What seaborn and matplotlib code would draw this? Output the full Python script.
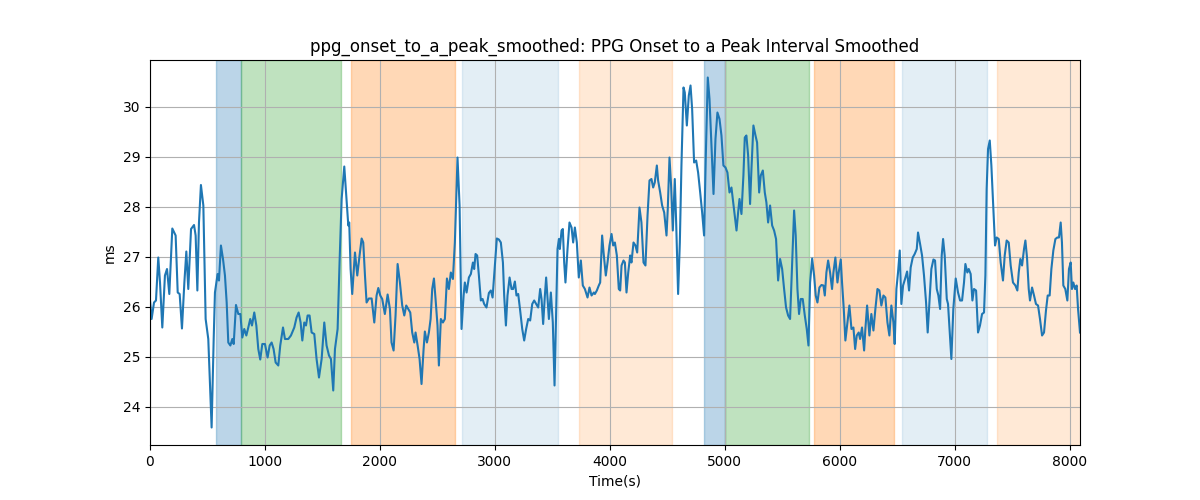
import pandas as pd
import numpy as np
import matplotlib
matplotlib.use('Agg')
import matplotlib.pyplot as plt
import seaborn as sns

# smoothed onset-to-peak interval as (time s, ms)
seg_1 = [(0, 26.13), (14, 25.76), (35, 26.09), (52, 26.13), (72, 26.99), (87, 26.49), (107, 25.59),
         (130, 26.63), (148, 26.76), (168, 26.26), (194, 27.57), (223, 27.43), (241, 26.29), (258, 26.26),
         (278, 25.57), (299, 26.49), (316, 27.11), (333, 26.36), (357, 27.56), (383, 27.64), (397, 27.43),
         (412, 26.33), (426, 27.69), (443, 28.44), (464, 28.03), (484, 25.76), (507, 25.36), (536, 23.59),
         (554, 25.36), (565, 26.29), (588, 26.66), (600, 26.53), (617, 27.23), (635, 26.96), (652, 26.63),
         (667, 26.09), (681, 25.29), (699, 25.23), (716, 25.36), (728, 25.26), (748, 26.04), (768, 25.86),
         (786, 25.86), (803, 25.39), (820, 25.56), (838, 25.43), (855, 25.59), (872, 25.76), (887, 25.63),
         (907, 25.89), (925, 25.63), (942, 25.16), (959, 24.95), (977, 25.26), (1000, 25.26), (1023, 24.99),
         (1041, 25.23), (1058, 25.29), (1075, 25.16), (1093, 24.89), (1116, 24.83), (1133, 25.23),
         (1157, 25.59), (1174, 25.36), (1203, 25.36), (1226, 25.43), (1255, 25.59), (1275, 25.79),
         (1293, 25.89), (1310, 25.69), (1325, 25.33)]

seg_2 = [(1342, 25.69), (1357, 25.63), (1371, 25.83), (1388, 25.83), (1406, 25.49), (1429, 25.46),
         (1449, 24.96), (1470, 24.59), (1493, 24.96), (1516, 25.69), (1536, 25.23), (1557, 25.03),
         (1574, 24.96), (1594, 24.33), (1609, 25.16), (1632, 25.56), (1649, 26.89), (1667, 28.16),
         (1690, 28.81), (1707, 28.23), (1725, 27.63), (1733, 27.69), (1745, 26.76), (1759, 26.26),
         (1783, 27.09), (1803, 26.63), (1823, 27.03), (1841, 27.37), (1855, 27.29), (1870, 26.63),
         (1884, 26.09), (1904, 26.17), (1928, 26.17), (1951, 25.69), (1971, 26.23), (1986, 26.38),
         (2003, 26.23), (2020, 26.16), (2043, 25.86), (2067, 26.25), (2087, 25.96), (2101, 25.29),
         (2119, 25.13), (2136, 25.83), (2154, 26.86), (2174, 26.49), (2194, 26.03), (2212, 25.83),
         (2229, 26.03), (2246, 25.96), (2264, 25.89), (2281, 25.49), (2299, 25.29), (2310, 25.49),
         (2328, 25.23), (2345, 24.96), (2362, 24.46), (2380, 25.16), (2391, 25.51), (2409, 25.29),
         (2426, 25.49), (2441, 25.76), (2455, 26.36), (2470, 26.57), (2484, 26.16), (2501, 25.63),
         (2513, 24.83), (2530, 25.76), (2548, 25.69), (2565, 25.76), (2583, 26.57), (2600, 26.36),
         (2617, 26.69), (2635, 26.56)]

seg_3 = [(2652, 27.29), (2675, 28.99), (2693, 28.03), (2710, 25.56), (2728, 26.23), (2739, 26.49),
         (2754, 26.29), (2774, 26.59), (2791, 26.66), (2809, 26.89), (2820, 26.76), (2832, 27.06),
         (2846, 27.03), (2861, 26.63), (2878, 26.13), (2893, 26.16), (2907, 26.06), (2927, 25.99),
         (2948, 26.28), (2965, 26.33), (2980, 26.19), (3000, 26.83), (3017, 27.37), (3035, 27.35),
         (3052, 27.29), (3070, 26.89), (3081, 26.23), (3096, 25.63), (3110, 26.23), (3128, 26.59),
         (3145, 26.36), (3159, 26.36), (3174, 26.51), (3188, 26.23), (3203, 26.26), (3220, 25.93),
         (3238, 25.56), (3255, 25.33), (3272, 25.56), (3290, 25.76), (3307, 25.73), (3325, 26.06),
         (3342, 26.13), (3359, 26.06), (3377, 25.99), (3394, 26.36), (3406, 26.16), (3420, 25.66),
         (3435, 26.23), (3446, 26.59), (3458, 26.16), (3470, 25.76), (3487, 26.29), (3504, 25.69),
         (3519, 24.43), (3533, 25.89), (3545, 27.16), (3557, 27.36), (3565, 27.16), (3580, 27.53),
         (3591, 27.56), (3603, 26.89), (3614, 26.49), (3632, 27.16), (3649, 27.69), (3667, 27.59),
         (3681, 27.29), (3696, 27.59), (3713, 27.29), (3730, 26.59), (3748, 26.93), (3765, 26.43),
         (3783, 26.36), (3806, 26.19), (3823, 26.39), (3841, 26.23), (3861, 26.29)]

seg_4 = [(3870, 26.26), (3887, 26.33), (3904, 26.43), (3916, 26.49), (3933, 27.43), (3948, 27.03),
         (3965, 26.63), (3980, 26.89), (3997, 27.23), (4015, 27.46), (4029, 27.23), (4044, 27.29),
         (4061, 27.03), (4078, 26.36), (4090, 26.33), (4102, 26.83), (4119, 26.93), (4131, 26.89),
         (4145, 26.29), (4160, 26.69), (4177, 27.03), (4188, 26.89), (4206, 27.29), (4223, 27.23),
         (4238, 27.09), (4258, 27.99), (4275, 27.69), (4293, 26.89), (4310, 26.83), (4328, 27.83),
         (4345, 28.53), (4362, 28.56), (4377, 28.39), (4391, 28.49), (4409, 28.83), (4420, 28.53),
         (4438, 28.29), (4455, 28.03), (4473, 27.89), (4493, 27.43), (4504, 27.96), (4519, 28.99),
         (4533, 28.43), (4548, 27.53), (4565, 28.56), (4577, 27.69), (4594, 26.26), (4609, 27.29),
         (4623, 28.83), (4641, 30.39), (4652, 30.29), (4670, 29.63), (4687, 30.23), (4702, 30.43),
         (4716, 29.96), (4733, 28.89), (4751, 28.93), (4768, 28.69), (4786, 28.29), (4803, 27.89),
         (4820, 27.43), (4835, 29.03), (4852, 30.59), (4867, 30.16), (4884, 29.23), (4902, 28.26),
         (4919, 29.36), (4936, 29.89), (4954, 29.76), (4971, 29.43), (4988, 28.83), (5006, 28.79),
         (5023, 28.69), (5041, 28.29), (5058, 28.39), (5075, 28.06), (5087, 27.83), (5102, 27.53),
         (5116, 27.89), (5128, 28.16), (5145, 27.86), (5162, 28.63)]

seg_5 = [(5174, 29.39), (5188, 29.43), (5203, 29.03), (5220, 28.06), (5232, 28.76), (5249, 29.63),
         (5267, 29.43), (5281, 29.29), (5299, 28.29), (5313, 28.63), (5331, 28.73), (5348, 28.29),
         (5362, 28.09), (5377, 27.69), (5394, 28.03), (5412, 27.63), (5429, 27.53), (5446, 27.36),
         (5464, 26.53), (5481, 26.96), (5499, 26.76), (5516, 26.36), (5533, 25.99), (5551, 25.83),
         (5568, 25.76), (5586, 26.89), (5603, 27.93), (5617, 27.43), (5632, 26.36), (5646, 25.86),
         (5661, 26.16), (5678, 26.16), (5696, 25.83), (5713, 25.56), (5728, 25.23), (5742, 26.49),
         (5760, 26.97), (5777, 26.63), (5791, 26.23), (5806, 26.09), (5823, 26.39), (5841, 26.44),
         (5858, 26.43), (5870, 26.23), (5884, 26.69), (5899, 26.93), (5916, 26.69), (5933, 26.36),
         (5945, 26.69), (5962, 26.99), (5980, 26.49), (5991, 26.69), (6009, 26.95), (6020, 26.49),
         (6035, 25.96), (6049, 25.33), (6067, 25.69), (6084, 26.03), (6102, 25.56), (6119, 25.59),
         (6134, 25.16), (6148, 25.43), (6165, 25.49), (6177, 25.36), (6194, 25.59), (6212, 25.13),
         (6223, 25.56), (6238, 26.03), (6258, 25.43), (6275, 25.86), (6293, 25.53), (6310, 25.96),
         (6328, 26.36), (6345, 26.33), (6362, 26.03), (6380, 26.23), (6397, 26.19), (6415, 25.69),
         (6432, 25.43), (6449, 26.03), (6467, 25.69)]

seg_6 = [(6478, 25.26), (6493, 26.36), (6507, 26.69), (6522, 27.13), (6536, 26.06), (6551, 26.43),
         (6568, 26.56), (6586, 26.71), (6603, 26.33), (6617, 26.79), (6635, 26.99), (6652, 27.06),
         (6670, 27.16), (6681, 27.49), (6699, 27.26), (6716, 27.03), (6733, 26.63), (6751, 26.09),
         (6765, 25.49), (6780, 26.09), (6797, 26.76), (6815, 26.95), (6829, 26.93), (6844, 26.36),
         (6858, 26.23), (6873, 25.96), (6887, 27.03), (6899, 27.36), (6913, 27.03), (6931, 26.16),
         (6942, 26.06), (6957, 25.49), (6971, 24.96), (6988, 25.96), (7009, 26.57), (7029, 26.29),
         (7047, 26.13), (7064, 26.13), (7081, 26.49), (7093, 26.86), (7110, 26.69), (7122, 26.76),
         (7139, 26.66), (7154, 26.13), (7168, 26.36), (7186, 26.33), (7203, 25.49), (7220, 25.63),
         (7238, 25.86), (7255, 25.89), (7267, 26.63), (7278, 28.36), (7290, 29.16), (7305, 29.33),
         (7319, 28.83), (7336, 27.96), (7351, 27.23), (7365, 27.39), (7383, 27.36), (7400, 26.89),
         (7420, 26.53), (7435, 27.03), (7452, 27.33), (7470, 27.29), (7487, 26.83), (7507, 26.49),
         (7528, 26.43), (7545, 26.33), (7557, 26.69), (7571, 26.96), (7586, 26.83), (7603, 27.16),
         (7615, 27.33), (7629, 26.99), (7644, 26.36), (7655, 26.13), (7673, 26.39), (7690, 26.23),
         (7707, 26.06), (7725, 26.03), (7742, 25.76), (7760, 25.43), (7777, 25.49), (7794, 25.93),
         (7809, 26.23), (7826, 26.23), (7841, 26.76), (7858, 27.13), (7876, 27.36), (7893, 27.39),
         (7907, 27.39), (7922, 27.69), (7933, 27.29), (7945, 26.43), (7962, 26.36), (7980, 26.13),
         (7994, 26.76), (8009, 26.89), (8020, 26.36), (8032, 26.49), (8047, 26.36), (8061, 26.43),
         (8073, 25.96), (8090, 25.49)]

# shaded segments
span_start = [574, 791, 1748, 2713, 3730, 4817, 5000, 5774, 6539, 7365]
span_end = [791, 1660, 2652, 3545, 4539, 5000, 5730, 6475, 7278, 8120]
span_kind = ['blue', 'green', 'orange', 'lightblue', 'lightorange',
             'blue', 'green', 'orange', 'lightblue', 'lightorange']

span_style = {'blue': ('C0', 0.3), 'green': ('C2', 0.3), 'orange': ('C1', 0.3),
              'lightblue': ('C0', 0.12), 'lightorange': ('C1', 0.17)}

df = pd.DataFrame(seg_1 + seg_2 + seg_3 + seg_4 + seg_5 + seg_6, columns=['time', 'ms'])

fig, ax = plt.subplots(figsize=(12, 5), dpi=100)

for s, e, k in zip(span_start, span_end, span_kind):
    c, a = span_style[k]
    ax.axvspan(s, e, color=c, alpha=a)

sns.lineplot(data=df, x='time', y='ms', ax=ax, color='C0', linewidth=1.5)

ax.set_xlim(0, 8090)
ax.grid(True)
ax.set_title('ppg_onset_to_a_peak_smoothed: PPG Onset to a Peak Interval Smoothed')
ax.set_xlabel('Time(s)')
ax.set_ylabel('ms')

plt.savefig('out.png', dpi=100)
